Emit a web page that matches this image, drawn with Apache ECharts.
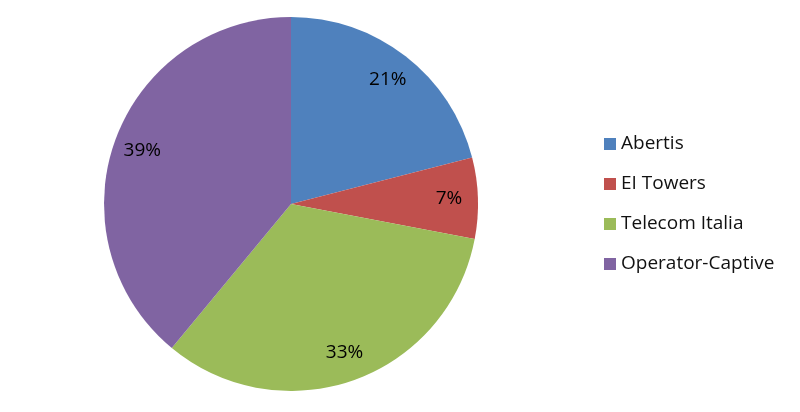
<!DOCTYPE html>
<html>
<head>
<meta charset="utf-8">
<script src="https://cdn.jsdelivr.net/npm/echarts@6/dist/echarts.min.js"></script>
<style>
  html, body { margin: 0; padding: 0; background: #fff; }
  #main { width: 800px; height: 412px; }
</style>
</head>
<body>
<div id="main"></div>
<script>
// 各公司份额 (%)
const names = ['Abertis', 'EI Towers', 'Telecom Italia', 'Operator-Captive'];
const shares = [21, 7, 33, 39];
const colors = ['#4F81BD', '#C0504D', '#9BBB59', '#8064A2'];

const pieData = names.map(function (n, i) {
  return { name: n, value: shares[i], itemStyle: { color: colors[i] } };
});

const chart = echarts.init(document.getElementById('main'));
chart.setOption({
  backgroundColor: '#fff',
  animation: false,
  legend: {
    orient: 'vertical',
    left: 599,
    top: 129,
    icon: 'rect',
    itemWidth: 12,
    itemHeight: 12,
    itemGap: 20,
    data: names,
    textStyle: { fontFamily: 'Open Sans', fontSize: 19, color: '#111', lineHeight: 20 }
  },
  series: [
    {
      // 扇区
      type: 'pie',
      center: [291, 204],
      radius: 187,
      startAngle: 90,
      clockwise: true,
      label: { show: false },
      labelLine: { show: false },
      emphasis: { disabled: true },
      data: pieData
    },
    {
      // 只用来放百分比标签
      type: 'pie',
      center: [291, 204],
      radius: [123, 187],
      startAngle: 90,
      clockwise: true,
      silent: true,
      legendHoverLink: false,
      itemStyle: { color: 'transparent' },
      label: {
        show: true,
        position: 'inside',
        formatter: '{c}%',
        fontFamily: 'Open Sans',
        fontSize: 19,
        color: '#000'
      },
      labelLine: { show: false },
      data: names.map(function (n, i) { return { name: n + ' ', value: shares[i] }; })
    }
  ]
});
</script>
</body>
</html>
